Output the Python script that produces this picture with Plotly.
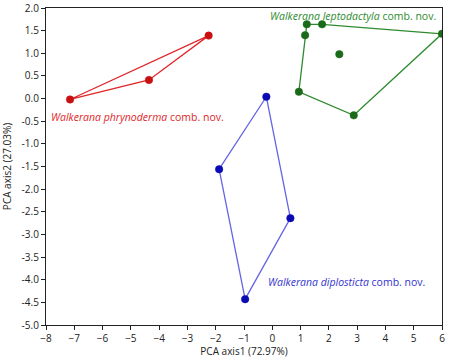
import plotly.graph_objects as go

# Data
red_x = [-7.15, -4.36, -2.25]
red_y = [-0.02, 0.41, 1.39]
red_hull = [0, 1, 2, 0]

green_x = [1.22, 1.76, 6.0, 2.88, 0.94, 1.16, 2.37]
green_y = [1.64, 1.64, 1.43, -0.37, 0.15, 1.40, 0.98]
green_hull = [0, 1, 2, 3, 4, 5, 0]

blue_x = [-0.21, 0.64, -0.96, -1.88]
blue_y = [0.04, -2.64, -4.43, -1.56]
blue_hull = [0, 1, 2, 3, 0]

x_ticks = list(range(-8, 7))
y_ticks = [2.0, 1.5, 1.0, 0.5, 0.0, -0.5, -1.0, -1.5, -2.0, -2.5, -3.0, -3.5, -4.0, -4.5, -5.0]

FONT = "Open Sans"

fig = go.Figure()

def add_group(xs, ys, hull, line_color, marker_color):
    fig.add_trace(go.Scatter(
        x=[xs[i] for i in hull], y=[ys[i] for i in hull], mode="lines",
        line=dict(color=line_color, width=1.3), hoverinfo="skip", showlegend=False))
    fig.add_trace(go.Scatter(
        x=xs, y=ys, mode="markers",
        marker=dict(color=marker_color, size=7.5, line=dict(color=marker_color, width=0.5)),
        showlegend=False))

add_group(red_x, red_y, red_hull, "#e0262a", "#c81010")
add_group(green_x, green_y, green_hull, "#2e8b2e", "#1a6a1a")
add_group(blue_x, blue_y, blue_hull, "#6464e6", "#0a0ab4")

fig.add_annotation(x=-7.9, y=-0.41, xanchor="left", yanchor="middle", showarrow=False,
                   text="<i>Walkerana phrynoderma</i> comb. nov.",
                   font=dict(family=FONT, size=10.5, color="#e0262a"))
fig.add_annotation(x=-0.16, y=1.83, xanchor="left", yanchor="middle", showarrow=False,
                   text="<i>Walkerana leptodactyla</i> comb. nov.",
                   font=dict(family=FONT, size=10.5, color="#2e8b2e"))
fig.add_annotation(x=-0.23, y=-4.06, xanchor="left", yanchor="middle", showarrow=False,
                   text="<i>Walkerana diplosticta</i> comb. nov.",
                   font=dict(family=FONT, size=10.5, color="#3434d0"))

axis_common = dict(showgrid=False, zeroline=False, showline=True, linecolor="#222",
                   linewidth=1.2, mirror=True, ticks="outside", ticklen=4,
                   tickcolor="#222", tickfont=dict(family=FONT, size=10, color="#222"))

fig.update_xaxes(range=[-8, 6], tickmode="array", tickvals=x_ticks,
                 title=dict(text="PCA axis1 (72.97%)", font=dict(family=FONT, size=10, color="#222"), standoff=9),
                 **axis_common)
fig.update_yaxes(range=[-5, 2], tickmode="array", tickvals=y_ticks,
                 ticktext=[f"{v:.1f}" for v in y_ticks],
                 title=dict(text="PCA axis2 (27.03%)", font=dict(family=FONT, size=10, color="#222"), standoff=8),
                 **axis_common)

fig.update_layout(width=451, height=358, margin=dict(l=46, r=9, t=8, b=33, autoexpand=False),
                  plot_bgcolor="white", paper_bgcolor="white",
                  font=dict(family=FONT))

fig.write_html("out.html")
